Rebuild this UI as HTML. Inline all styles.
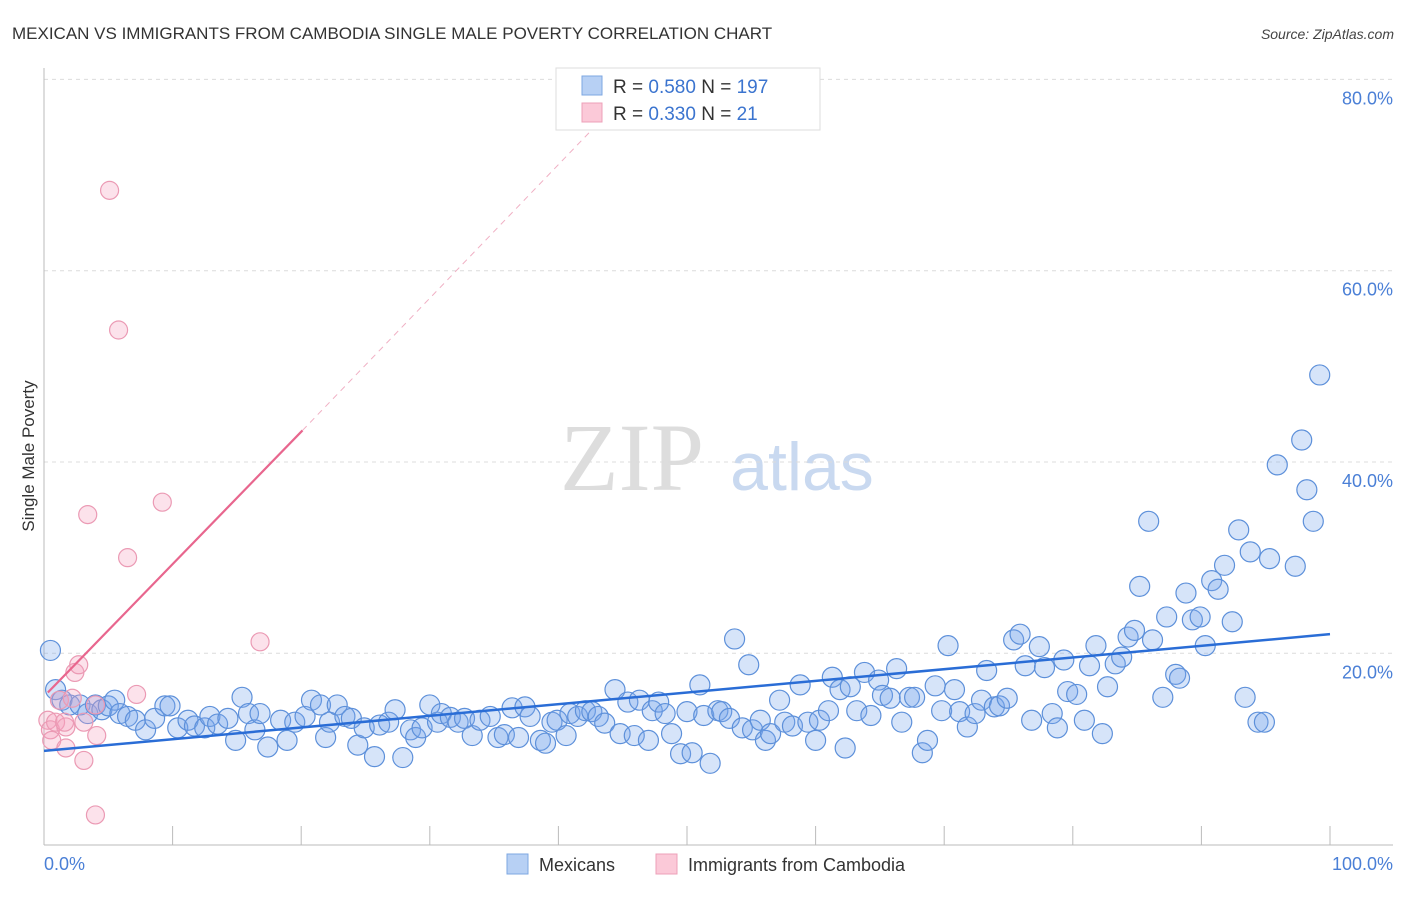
<!DOCTYPE html>
<html><head><meta charset="utf-8"><style>
body{margin:0;background:#fff;font-family:"Liberation Sans",sans-serif;}
</style></head><body>
<svg id="chart" width="1406" height="892" xmlns="http://www.w3.org/2000/svg" style="font-family:'Liberation Sans',sans-serif">
<text x="12" y="39" font-size="17" fill="#333">MEXICAN VS IMMIGRANTS FROM CAMBODIA SINGLE MALE POVERTY CORRELATION CHART</text>
<text x="1394" y="39" font-size="14" fill="#444" text-anchor="end" font-style="italic">Source: ZipAtlas.com</text>
<text transform="translate(34,456) rotate(-90)" font-size="17" fill="#333" text-anchor="middle">Single Male Poverty</text>
<g>
<text x="632" y="490" font-size="96" fill="#ddd" font-family="'Liberation Serif',serif" text-anchor="middle">ZIP</text>
<text x="802" y="490" font-size="68" fill="#c9d9f0" text-anchor="middle">atlas</text>
</g>
<g id="grid"></g><g id="axes"></g><g id="marks"></g><g id="trends"></g>
<g>
<rect x="556" y="68" width="264" height="62" fill="#fff" stroke="#ddd"/>
<rect x="582" y="76" width="20" height="19" fill="#b7d0f4" stroke="#7ea7e2"/>
<text x="613" y="93" font-size="19" fill="#333">R = <tspan fill="#3b74cf">0.580</tspan>   N = <tspan fill="#3b74cf">197</tspan></text>
<rect x="582" y="103" width="20" height="19" fill="#fbc9d8" stroke="#eea0b8"/>
<text x="613" y="120" font-size="19" fill="#333">R = <tspan fill="#3b74cf">0.330</tspan>   N =   <tspan fill="#3b74cf">21</tspan></text>
</g>
<g>
<rect x="507" y="854" width="21" height="20" fill="#b7d0f4" stroke="#7ea7e2"/>
<text x="539" y="871" font-size="18" fill="#333">Mexicans</text>
<rect x="656" y="854" width="21" height="20" fill="#fbc9d8" stroke="#eea0b8"/>
<text x="688" y="871" font-size="18" fill="#333">Immigrants from Cambodia</text>
</g>
</svg>
<script>
const yTicks=[20,40,60,80];
const yTickLabels=["20.0%","40.0%","60.0%","80.0%"];
const xTickLabels=["0.0%","100.0%"];
const blueX=[0.5,0.9,1.4,2.0,2.8,3.4,4.0,4.5,5.0,5.5,5.9,6.5,7.1,7.9,8.6,9.4,9.8,10.4,11.2,11.7,12.5,12.9,13.5,14.3,14.9,15.4,15.9,16.4,16.8,17.4,18.4,18.9,19.5,20.3,20.8,21.5,21.9,22.2,22.8,23.4,23.9,24.4,24.9,25.7,26.1,26.8,27.3,27.9,28.5,28.9,29.4,30.0,30.6,30.9,31.6,32.2,32.7,33.3,33.9,34.7,35.3,35.8,36.4,36.9,37.4,37.8,38.6,39.0,39.5,39.9,40.6,40.9,41.5,42.1,42.6,43.1,43.6,44.4,44.8,45.4,45.9,46.3,47.0,47.3,47.8,48.3,48.8,49.5,50.0,50.4,51.0,51.3,51.8,52.4,52.7,53.3,53.7,54.3,54.8,55.1,55.7,56.1,56.5,57.2,57.6,58.2,58.8,59.4,60.0,60.3,61.0,61.3,61.9,62.3,62.7,63.2,63.8,64.3,64.9,65.2,65.8,66.3,66.7,67.3,67.7,68.3,68.7,69.3,69.8,70.3,70.8,71.2,71.8,72.4,72.9,73.3,73.9,74.3,74.9,75.4,75.9,76.3,76.8,77.4,77.8,78.4,78.8,79.3,79.6,80.3,80.9,81.3,81.8,82.3,82.7,83.3,83.8,84.3,84.8,85.9,85.2,86.2,87.0,87.3,88.0,88.3,88.8,89.3,89.9,90.3,90.8,91.3,91.8,92.4,92.9,93.4,93.8,94.4,94.9,95.3,95.9,97.3,97.8,98.2,98.7,99.2];
const blueY=[20.3,16.2,15.1,14.6,14.6,13.7,14.6,14.1,14.5,15.1,13.7,13.4,13.0,12.0,13.2,14.5,14.5,12.2,13.0,12.4,12.2,13.4,12.6,13.2,10.9,15.4,13.7,12.0,13.7,10.2,13.0,10.9,12.8,13.4,15.1,14.6,11.2,12.8,14.6,13.4,13.2,10.4,12.2,9.2,12.5,12.8,14.1,9.1,12.0,11.2,12.2,14.6,12.8,13.7,13.3,12.8,13.2,11.4,13.0,13.4,11.2,11.5,14.3,11.2,14.4,13.4,10.9,10.6,12.8,13.0,11.4,13.7,13.4,14.0,13.9,13.4,12.7,16.2,11.6,14.9,11.4,15.1,10.9,14.0,14.9,13.7,11.6,9.5,13.9,9.6,16.7,13.5,8.5,14.0,13.9,13.2,21.5,12.2,18.8,12.0,13.0,10.9,11.6,15.1,12.8,12.4,16.7,12.8,10.9,13.0,14.0,17.5,16.2,10.1,16.5,14.0,18.0,13.5,17.2,15.6,15.3,18.4,12.8,15.4,15.4,9.6,10.9,16.6,14.0,20.8,16.2,13.9,12.3,13.7,15.1,18.2,14.4,14.5,15.3,21.4,22.0,18.7,13.0,20.7,18.5,13.7,12.2,19.3,16.0,15.7,13.0,18.7,20.8,11.6,16.5,18.9,19.6,21.7,22.4,33.8,27.0,21.4,15.4,23.8,17.8,17.4,26.3,23.5,23.8,20.8,27.6,26.7,29.2,23.3,32.9,15.4,30.6,12.8,12.8,29.9,39.7,29.1,42.3,37.1,33.8,49.1];
const pinkX=[0.3,0.5,0.6,0.9,1.2,1.7,2.2,2.4,2.7,3.1,3.4,4.0,4.1,3.1,1.7,4.0,5.1,5.8,6.5,7.2,9.2,16.8,1.6];
const pinkY=[13.0,12.0,10.9,12.8,15.1,12.3,15.3,18.0,18.8,12.8,34.5,14.6,11.4,8.8,10.1,3.1,68.4,53.8,30.0,15.7,35.8,21.2,12.8];
const blueTrend=[[0,9.8],[100,22.0]];
const pinkTrend=[[0.3,15.9],[20.1,43.3]];
const pinkDash=[[20.1,43.3],[43.3,75.7]];

const NS="http://www.w3.org/2000/svg";
const X0=44,X1=1330,Y0=844.6,YS=9.565;
const sx=v=>X0+(X1-X0)*v/100, sy=v=>Y0-v*YS;
function mk(tag,attrs,parent){const e=document.createElementNS(NS,tag);for(const k in attrs)e.setAttribute(k,attrs[k]);parent.appendChild(e);return e;}
const grid=document.getElementById('grid'),axes=document.getElementById('axes'),marks=document.getElementById('marks'),trends=document.getElementById('trends');
yTicks.forEach((t,i)=>{
 const g=mk('line',{x1:44,x2:1393,y1:sy(t),y2:sy(t),stroke:'#dcdcdc','stroke-dasharray':'4,4'},grid);
 
 
 const l=mk('text',{x:1393,y:sy(t)+25,'font-size':18,fill:'#4a7fd6','text-anchor':'end'},axes);
 l.textContent=yTickLabels[i];
 
 
});
const ax=mk('line',{x1:44,x2:1393,y1:845,y2:845,stroke:'#bbb'},axes);


const ay=mk('line',{x1:44,x2:44,y1:68,y2:845,stroke:'#bbb'},axes);


for(let i=1;i<=10;i++){const tk=mk('line',{x1:sx(i*10),x2:sx(i*10),y1:826,y2:845,stroke:'#bbb'},axes);
 
 }
const xl0=mk('text',{x:44,y:870,'font-size':18,fill:'#4a7fd6'},axes);xl0.textContent=xTickLabels[0];


const xl1=mk('text',{x:1393,y:870,'font-size':18,fill:'#4a7fd6','text-anchor':'end'},axes);xl1.textContent=xTickLabels[1];


blueX.forEach((v,i)=>{const c=mk('circle',{cx:sx(v),cy:sy(blueY[i]),r:10,fill:'rgba(120,165,235,0.3)',stroke:'#5d90da','stroke-width':1.2},marks);
 
 });
pinkX.forEach((v,i)=>{const c=mk('circle',{cx:sx(v),cy:sy(pinkY[i]),r:9,fill:'rgba(245,160,190,0.3)',stroke:'#eb9ab4','stroke-width':1.2},marks);
 
 });
const bt=mk('line',{x1:sx(blueTrend[0][0]),y1:sy(blueTrend[0][1]),x2:sx(blueTrend[1][0]),y2:sy(blueTrend[1][1]),stroke:'#2a6dd6','stroke-width':2.5},trends);


const pt=mk('line',{x1:sx(pinkTrend[0][0]),y1:sy(pinkTrend[0][1]),x2:sx(pinkTrend[1][0]),y2:sy(pinkTrend[1][1]),stroke:'#e8668e','stroke-width':2.2},trends);


const pd=mk('line',{x1:sx(pinkDash[0][0]),y1:sy(pinkDash[0][1]),x2:sx(pinkDash[1][0]),y2:sy(pinkDash[1][1]),stroke:'#f0b0c4','stroke-width':1,'stroke-dasharray':'6,5'},trends);


</script>
</body></html>
